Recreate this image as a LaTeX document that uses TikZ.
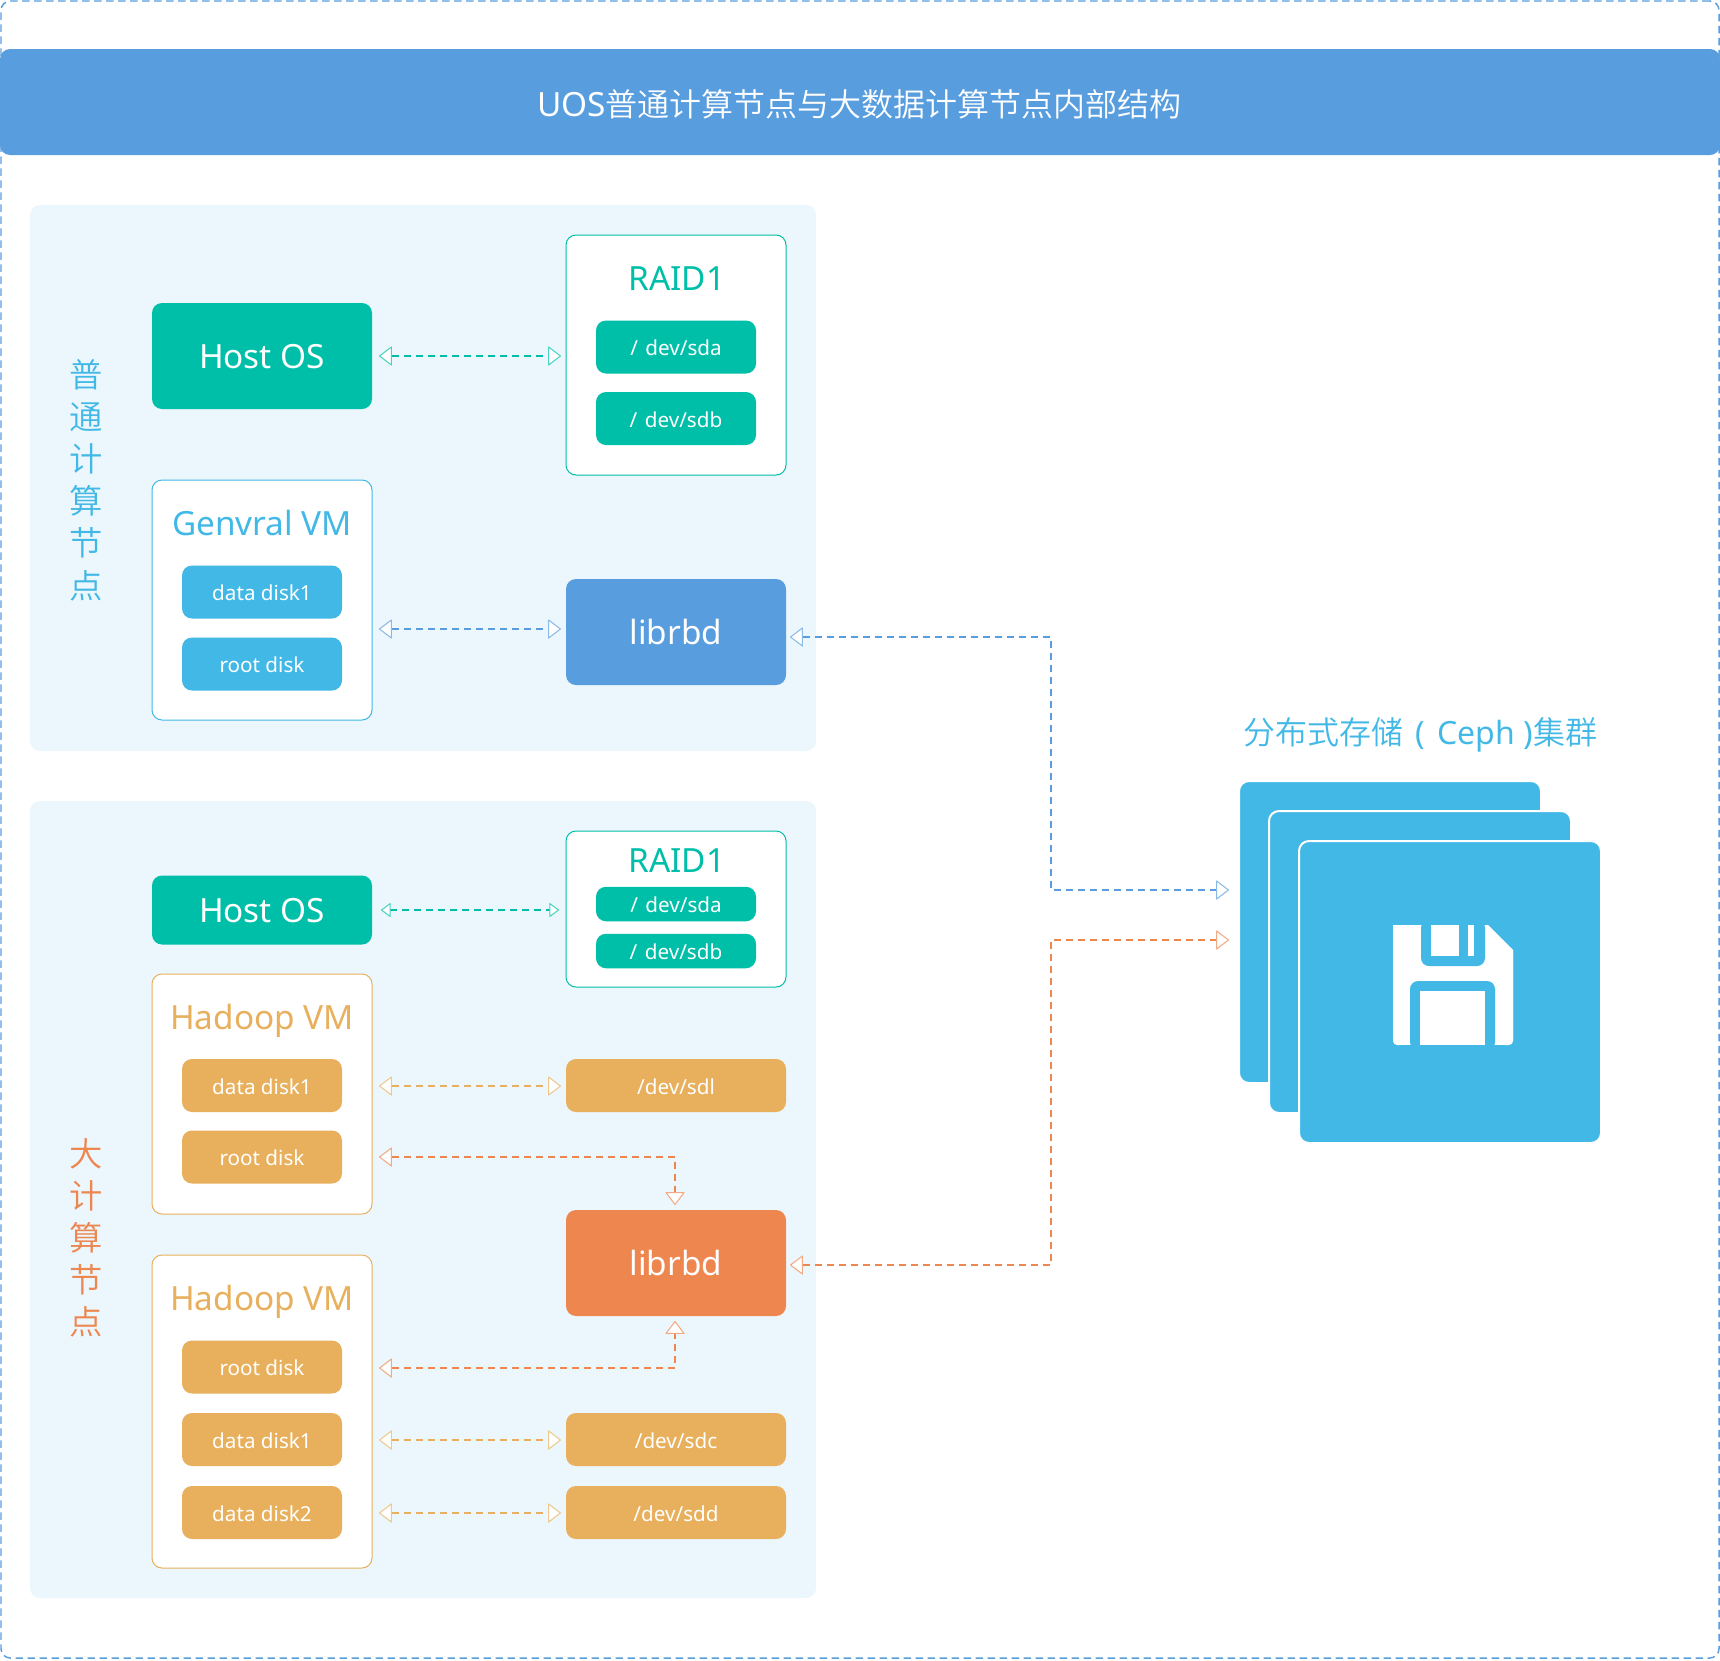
\documentclass[tikz,border=0pt]{standalone}
\usepackage{fontspec}
\setmainfont{Noto Sans}
\newfontfamily\cjk{Noto Sans CJK SC DemiLight}
\usetikzlibrary{arrows.meta,calc}
\definecolor{cTeal}{HTML}{00BFA8}
\definecolor{cBlue}{HTML}{589DDE}
\definecolor{cSky}{HTML}{42B8E6}
\definecolor{cOrange}{HTML}{EE8650}
\definecolor{cYellow}{HTML}{E8B05C}
\definecolor{cPanel}{HTML}{EBF7FC}
\newcommand{\fbig}{\fontsize{25}{30}\selectfont\rule[-6pt]{0pt}{30.5pt}}
\newcommand{\fsmall}{\fontsize{15.5}{18}\selectfont\rule[-3.7pt]{0pt}{20.3pt}}
\newcommand{\fcj}{\fontsize{24}{28}\selectfont}
\tikzset{
  x=0.75pt,y=-0.75pt,
  bx/.style 2 args={rectangle,inner sep=0pt,outer sep=0pt,rounded corners=7.5pt,minimum width=#1*0.75pt,minimum height=#2*0.75pt},
  solid box/.style={fill=#1,text=white},
  frame box/.style={draw=#1,fill=white,line width=0.75pt},
  big/.style={font=\fbig,text=#1},
  conn/.style={draw=#1,line width=1pt,dash pattern=on 5.2pt off 3.8pt},
  link/.style={conn=#1,{Triangle[length=10pt,width=15pt,fill=white,color=#1!70!white,line width=0.8pt,round]}-{Triangle[length=10pt,width=15pt,fill=white,color=#1!70!white,line width=0.8pt,round]},shorten <=5.25pt,shorten >=3.75pt},
  linkfar/.style={conn=#1,{Triangle[length=10pt,width=15pt,fill=white,color=#1!70!white,line width=0.8pt,round]}-{Triangle[length=10pt,width=15pt,fill=white,color=#1!70!white,line width=0.8pt,round]},shorten <=3pt,shorten >=7.5pt},
  linksmall/.style={conn=#1,{Triangle[length=7.5pt,width=11pt,fill=white,color=#1!70!white,line width=0.8pt,round]}-{Triangle[length=7.5pt,width=11pt,fill=white,color=#1!70!white,line width=0.8pt,round]},shorten <=6.75pt,shorten >=5.25pt},
}
\begin{document}
\begin{tikzpicture}
\useasboundingbox (0,0) rectangle (1720,1660);
% outer frame and title
\node[bx={1718}{1657},draw=cBlue,line width=1.1pt,dash pattern=on 5.6pt off 3.4pt,rounded corners=7pt] (outer) at (860,829.5) {};
\node[bx={1720}{106},fill=cBlue] (title) at (860,102) {};
\node[text=white,font=\fcj,inner sep=0pt] (titlet) at (859.5,104) {{\fontsize{25}{28}\selectfont UOS}{\cjk 普通计算节点与大数据计算节点内部结构}};
% panels
\node[bx={786}{546},fill=cPanel] (panelA) at (423,478) {};
\node[bx={786}{797},fill=cPanel] (panelB) at (423,1199.5) {};
% side labels
\node[align=center,inner sep=0pt,font=\cjk\fontsize{25}{31.6}\selectfont,text=cSky] (sideA) at (86,480) {普\\通\\计\\算\\节\\点};
\node[align=center,inner sep=0pt,font=\cjk\fontsize{25}{31.6}\selectfont,text=cOrange] (sideB) at (86,1238) {大\\计\\算\\节\\点};
% panel A
\node[bx={220}{106},solid box=cTeal,font=\fbig] (host1) at (262,356) {Host OS};
\node[bx={220}{240},frame box=cTeal] (raid1) at (676,355) {};
\node[big=cTeal] (raid1t) at (677,278) {RAID1};
\node[bx={160}{53},solid box=cTeal,font=\fsmall] (sda1) at (676,347) {/\hspace{1.5pt} dev/sda};
\node[bx={160}{53},solid box=cTeal,font=\fsmall] (sdb1) at (676,418.5) {/\hspace{1.5pt} dev/sdb};
\node[bx={220}{240},frame box=cSky] (gen) at (262,600) {};
\node[big=cSky] (gent) at (262,523) {Genvral VM};
\node[bx={160}{53},solid box=cSky,font=\fsmall] (gd1) at (262,592) {data disk1};
\node[bx={160}{53},solid box=cSky,font=\fsmall] (gr1) at (262,664) {root disk};
\node[bx={220}{106},solid box=cBlue,font=\fbig] (lib1) at (676,632) {librbd};
% panel B
\node[bx={220}{69},solid box=cTeal,font=\fbig] (host2) at (262,910) {Host OS};
\node[bx={220}{156},frame box=cTeal] (raid2) at (676,909) {};
\node[big=cTeal] (raid2t) at (677,860.5) {RAID1};
\node[bx={160}{34.5},solid box=cTeal,font=\fsmall] (sda2) at (676,904) {/\hspace{1.5pt} dev/sda};
\node[bx={160}{34.5},solid box=cTeal,font=\fsmall] (sdb2) at (676,951) {/\hspace{1.5pt} dev/sdb};
\node[bx={220}{240},frame box=cYellow] (vm1) at (262,1094) {};
\node[big=cYellow] (vm1t) at (262,1017) {Hadoop VM};
\node[bx={160}{53},solid box=cYellow,font=\fsmall] (v1d) at (262,1085.5) {data disk1};
\node[bx={160}{53},solid box=cYellow,font=\fsmall] (v1r) at (262,1157) {root disk};
\node[bx={220}{53},solid box=cYellow,font=\fsmall] (sdl) at (676,1085.5) {/dev/sdl};
\node[bx={220}{106},solid box=cOrange,font=\fbig] (lib2) at (676,1263) {librbd};
\node[bx={220}{313},frame box=cYellow] (vm2) at (262,1411.5) {};
\node[big=cYellow] (vm2t) at (262,1298) {Hadoop VM};
\node[bx={160}{53},solid box=cYellow,font=\fsmall] (v2r) at (262,1367) {root disk};
\node[bx={160}{53},solid box=cYellow,font=\fsmall] (v2d) at (262,1439.5) {data disk1};
\node[bx={160}{53},solid box=cYellow,font=\fsmall] (v2e) at (262,1512.5) {data disk2};
\node[bx={220}{53},solid box=cYellow,font=\fsmall] (sdc) at (676,1439.5) {/dev/sdc};
\node[bx={220}{53},solid box=cYellow,font=\fsmall] (sdd) at (676,1512.5) {/dev/sdd};
% storage cluster
\node[text=cSky,inner sep=0pt,font=\fcj] (clt) at (1420.5,735) {{\cjk 分布式存储}\hspace{3.3pt} (\hspace{2.5pt} Ceph )\hspace{0.7pt}{\cjk 集群}};
\node[bx={302}{302},fill=cSky,draw=white,line width=1.5pt] (card1) at (1390,932) {};
\node[bx={302}{302},fill=cSky,draw=white,line width=1.5pt] (card2) at (1420,962) {};
\node[bx={302}{302},fill=cSky,draw=white,line width=1.5pt] (card3) at (1450,992) {};
% disk icon
\fill[white,rounded corners=3pt] (1393,925) -- (1393,1045) -- (1513,1045) -- (1513,950);
\fill[white,rounded corners=0pt] (1393,925) -- (1488,925) -- (1513,950) -- (1513,1040) -- (1393,1040) -- cycle;
\fill[cSky,rounded corners=6pt] (1421,920) -- (1421,966) -- (1485,966) -- (1485,920) -- cycle;
\fill[white] (1431,925) rectangle (1459,956);
\fill[white] (1468,925) rectangle (1474,956);
\fill[cSky,rounded corners=6pt] (1410,1050) -- (1410,981) -- (1495,981) -- (1495,1050) -- cycle;
\fill[white] (1420,991) rectangle (1485,1045);
\fill[cSky] (1415,915) rectangle (1500,925);
\fill[cSky] (1400,1045) rectangle (1505,1052);
% connectors
\draw[link=cTeal] (host1.east) -- (raid1.west |- host1.east);
\draw[link=cBlue] ($(gen.east |- lib1.west)+(0,-3)$) -- ($(lib1.west)+(0,-3)$);
\coordinate (busA) at (1051,890);
\coordinate (busB) at (1051,940);
\draw[linkfar=cBlue] ($(lib1.east)+(0,5)$) -| (busA) -- (card1.west |- busA);
\draw[linkfar=cOrange] ($(lib2.east)+(0,2)$) -| (busB) -- (card1.west |- busB);
\draw[linksmall=cTeal] (host2.east) -- (raid2.west |- host2.east);
\draw[link=cYellow] ($(vm1.east |- sdl.west)+(0,0.5)$) -- ($(sdl.west)+(0,0.5)$);
\draw[link=cOrange] (vm1.east |- v1r.east) -| ($(lib2.north)+(-1,0)$);
\draw[link=cOrange] ($(vm2.east |- v2r.east)+(0,1)$) -| ($(lib2.south)+(-1,0)$);
\draw[link=cYellow] ($(vm2.east |- sdc.west)+(0,0.5)$) -- ($(sdc.west)+(0,0.5)$);
\draw[link=cYellow] ($(vm2.east |- sdd.west)+(0,0.5)$) -- ($(sdd.west)+(0,0.5)$);
\end{tikzpicture}
\end{document}
